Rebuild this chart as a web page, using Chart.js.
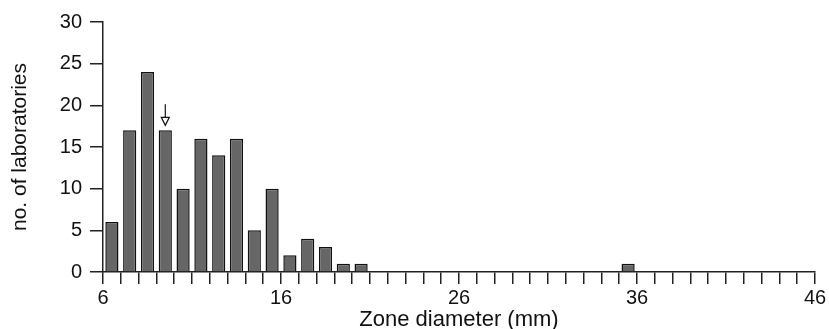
<!DOCTYPE html>
<html>
<head>
<meta charset="utf-8">
<script src="https://cdn.jsdelivr.net/npm/chart.js@4/dist/chart.umd.min.js"></script>
<style>
  html, body { margin: 0; padding: 0; background: #fff; }
  #wrap { width: 829px; height: 329px; }
</style>
</head>
<body>
<div id="wrap"><canvas id="c" width="829" height="329"></canvas></div>
<script>
// Zone diameter bins (left edge, mm) and number of laboratories
const binStarts = [6, 7, 8, 9, 10, 11, 12, 13, 14, 15, 16, 17, 18, 19, 20, 35];
const labCounts = [6, 17, 24, 17, 10, 16, 14, 16, 5, 10, 2, 4, 3, 1, 1, 1];
const xLabelTicks = [6, 16, 26, 36, 46];
const yTicks = [0, 5, 10, 15, 20, 25, 30];
// Arrow marker (mode) above bin starting at 9
const arrowBin = 9;
const arrowCount = 17;

const points = binStarts.map((b, i) => ({ x: b + 0.5, y: labCounts[i] }));

const FONT = "'Liberation Sans', Arial, Helvetica, sans-serif";
const AXIS = '#222';

const arrowPlugin = {
  id: 'arrow',
  afterDatasetsDraw(chart) {
    const ctx = chart.ctx;
    const xs = chart.scales.x, ys = chart.scales.y;
    const px = xs.getPixelForValue(arrowBin + 0.5);
    const py = ys.getPixelForValue(arrowCount);
    ctx.save();
    ctx.strokeStyle = '#111';
    ctx.lineWidth = 1.2;
    ctx.fillStyle = '#fff';
    const tipY = py - 5;
    ctx.beginPath();
    ctx.moveTo(px, tipY - 21);
    ctx.lineTo(px, tipY - 8);
    ctx.stroke();
    ctx.beginPath();
    ctx.moveTo(px - 4, tipY - 8);
    ctx.lineTo(px + 4, tipY - 8);
    ctx.lineTo(px, tipY);
    ctx.closePath();
    ctx.fill();
    ctx.stroke();
    ctx.restore();
  }
};

new Chart(document.getElementById('c'), {
  type: 'bar',
  data: {
    datasets: [{
      data: points,
      backgroundColor: '#666666',
      borderColor: '#111111',
      borderWidth: 1.5,
      borderSkipped: 'bottom',
      categoryPercentage: 1,
      barPercentage: 0.74
    }]
  },
  options: {
    responsive: false,
    animation: false,
    events: [],
    layout: { padding: { top: 22, right: 14, bottom: 0, left: 0 } },
    plugins: { legend: { display: false }, tooltip: { enabled: false } },
    scales: {
      x: {
        type: 'linear',
        min: 6, max: 46,
        offset: false,
        afterFit(s) { s.height = 57; },
        afterBuildTicks(s) {
          const t = [];
          for (let v = s.min; v <= s.max; v++) t.push({ value: v });
          s.ticks = t;
        },
        ticks: {
          autoSkip: false,
          maxRotation: 0,
          padding: 2,
          color: '#111',
          font: { family: FONT, size: 20 },
          callback: (v) => xLabelTicks.includes(v) ? String(v) : ''
        },
        grid: {
          display: true,
          offset: false,
          drawOnChartArea: false,
          drawTicks: true,
          tickLength: 12,
          color: AXIS,
          lineWidth: 1.5
        },
        border: { display: true, color: AXIS, width: 1.5 },
        title: {
          display: true,
          text: 'Zone diameter (mm)',
          color: '#111',
          font: { family: FONT, size: 22, lineHeight: 1 },
          padding: { top: 0, bottom: -2 }
        }
      },
      y: {
        min: 0, max: 30,
        afterFit(s) { s.width = 103; },
        afterBuildTicks(s) { s.ticks = yTicks.map(v => ({ value: v })); },
        ticks: {
          padding: 8,
          color: '#111',
          font: { family: FONT, size: 20 }
        },
        grid: {
          display: true,
          drawOnChartArea: false,
          drawTicks: true,
          tickLength: 13,
          color: AXIS,
          lineWidth: 1.5
        },
        border: { display: true, color: AXIS, width: 1.5 },
        title: {
          display: true,
          text: 'no. of laboratories',
          color: '#111',
          font: { family: FONT, size: 21, lineHeight: 1.2 },
          padding: { top: 8, bottom: 0 }
        }
      }
    }
  },
  plugins: [arrowPlugin]
});
</script>
</body>
</html>
